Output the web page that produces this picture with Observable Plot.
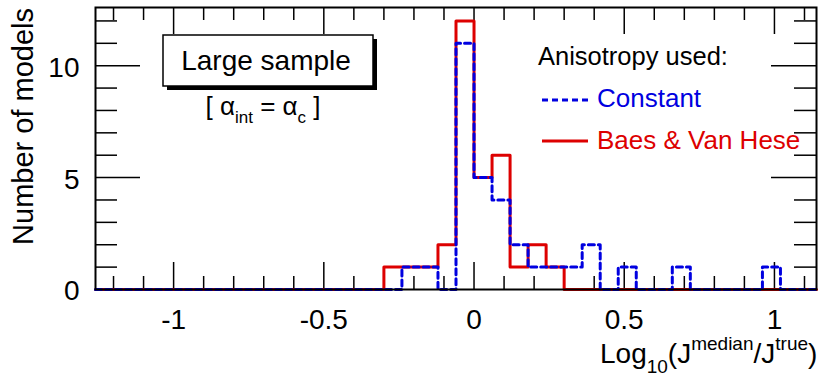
<!DOCTYPE html>
<html><head><meta charset="utf-8">
<script src="https://cdn.jsdelivr.net/npm/d3@7"></script>
<script src="https://cdn.jsdelivr.net/npm/@observablehq/plot@0.6"></script>
<style>body{margin:0;background:#fff}#chart{width:818px;height:379px}</style>
</head><body><div id="chart"></div>
<script>
// Histogram binning (40 bins of width 0.06 from -1.26 to 1.14)
const binStart = -1.26;
const binWidth = 0.06;
const nBins = 40;
// Counts per bin, index 0 = bin starting at -1.26
const baesCounts = [0,0,0,0,0,0,0,0,0,0, 0,0,0,0,0,0,1,1,1,2, 12,5,6,1,2,1,0,0,0,0, 0,0,0,0,0,0,0,0,0,0];
const constantCounts = [0,0,0,0,0,0,0,0,0,0, 0,0,0,0,0,0,0,1,1,0, 11,5,4,2,1,1,1,2,0,1, 0,0,1,0,0,0,0,1,0,0];
const xMajorTicks = [-1, -0.5, 0, 0.5, 1];
const xMinorTicks = [-1.2,-1.1,-0.9,-0.8,-0.7,-0.6,-0.4,-0.3,-0.2,-0.1,0.1,0.2,0.3,0.4,0.6,0.7,0.8,0.9,1.1];
const yMajorTicks = [0, 5, 10];
const yMinorTicks = [1,2,3,4,6,7,8,9,11,12];
const yMax = 12.6;
const legendTitle = "Anisotropy used:";
const seriesNames = ["Constant", "Baes & Van Hese"];
const BLUE = "#0000e0", RED = "#dd0000";

const W = 818, H = 379;
const xDomain = [binStart, binStart + nBins * binWidth];

function steps(counts) {
  const pts = counts.map((c, i) => ({x: binStart + i * binWidth, y: c}));
  pts.push({x: binStart + nBins * binWidth, y: counts[counts.length - 1]});
  return pts;
}

const tickStyle = {stroke: "black", strokeWidth: 1.5};
const plot = Plot.plot({
  width: W, height: H,
  marginLeft: 95, marginRight: 2, marginTop: 7, marginBottom: 90,
  style: {fontFamily: "'Liberation Sans', Arial, Helvetica, sans-serif", background: "white", overflow: "visible"},
  x: {domain: xDomain, axis: null},
  y: {domain: [0, yMax], axis: null},
  marks: [
    // bottom & top x ticks
    Plot.ruleX(xMajorTicks, {x: d => d, y1: 0, y2: 0, insetTop: -27, ...tickStyle}),
    Plot.ruleX(xMinorTicks, {x: d => d, y1: 0, y2: 0, insetTop: -13, ...tickStyle}),
    Plot.ruleX(xMajorTicks, {x: d => d, y1: yMax, y2: yMax, insetBottom: -27, ...tickStyle}),
    Plot.ruleX(xMinorTicks, {x: d => d, y1: yMax, y2: yMax, insetBottom: -13, ...tickStyle}),
    // left & right y ticks
    Plot.ruleY(yMajorTicks, {y: d => d, x1: xDomain[0], x2: xDomain[0], insetRight: -45, ...tickStyle}),
    Plot.ruleY(yMinorTicks, {y: d => d, x1: xDomain[0], x2: xDomain[0], insetRight: -22, ...tickStyle}),
    Plot.ruleY(yMajorTicks, {y: d => d, x1: xDomain[1], x2: xDomain[1], insetLeft: -45, ...tickStyle}),
    Plot.ruleY(yMinorTicks, {y: d => d, x1: xDomain[1], x2: xDomain[1], insetLeft: -22, ...tickStyle}),
    // tick labels
    Plot.text(yMajorTicks, {y: d => d, text: d => String(d), frameAnchor: "left", dx: -16, dy: 2, textAnchor: "end", fontSize: 28}),
    Plot.text(xMajorTicks, {x: d => d, text: d => String(d), frameAnchor: "bottom", lineAnchor: "top", dy: 20, fontSize: 28}),
    // histograms
    Plot.line(steps(baesCounts), {x: "x", y: "y", curve: "step-after", stroke: RED, strokeWidth: 3}),
    Plot.line(steps(constantCounts), {x: "x", y: "y", curve: "step-after", stroke: BLUE, strokeWidth: 3, strokeDasharray: "6,4"}),
    Plot.frame({stroke: "black", strokeWidth: 2})
  ]
});
document.getElementById("chart").appendChild(plot);

const svg = d3.select(plot);
const FONT = "'Liberation Sans', Arial, Helvetica, sans-serif";
function addText(x, y, size, anchor, fill) {
  return svg.append("text").attr("x", x).attr("y", y).attr("font-size", size)
    .attr("font-family", FONT).attr("text-anchor", anchor).attr("fill", fill || "black");
}

// Y axis title
svg.append("text").attr("transform", "translate(33,8) rotate(-90)")
  .attr("text-anchor", "end").attr("font-size", 29).attr("font-family", FONT).attr("fill", "black")
  .text("Number of models");

// X axis title with sub/superscripts
const xt = addText(600, 363, 28, "start");
xt.append("tspan").text("Log");
xt.append("tspan").attr("font-size", 19).attr("dy", 10).text("10");
xt.append("tspan").attr("dy", -10).text("(J");
xt.append("tspan").attr("font-size", 19).attr("dy", -13).text("median");
xt.append("tspan").attr("dy", 13).text("/J");
xt.append("tspan").attr("font-size", 19).attr("dy", -13).text("true");
xt.append("tspan").attr("dy", 13).text(")");

// "Large sample" pave with shadow
svg.append("rect").attr("x", 167).attr("y", 39).attr("width", 210).attr("height", 51).attr("fill", "black");
svg.append("rect").attr("x", 163).attr("y", 35).attr("width", 210).attr("height", 51).attr("fill", "white").attr("stroke", "black").attr("stroke-width", 1.5);
addText(266, 70, 28, "middle").text("Large sample");

// [ alpha_int = alpha_c ]
const st = addText(263, 115, 26, "middle");
st.append("tspan").text("[ α");
st.append("tspan").attr("font-size", 17).attr("dy", 8).text("int");
st.append("tspan").attr("dy", -8).text(" = α");
st.append("tspan").attr("font-size", 17).attr("dy", 8).text("c");
st.append("tspan").attr("dy", -8).text(" ]");

// Legend
addText(538, 65, 25.5, "start").text(legendTitle);
svg.append("line").attr("x1", 542).attr("x2", 590).attr("y1", 100).attr("y2", 100).attr("stroke", BLUE).attr("stroke-width", 3).attr("stroke-dasharray", "6,4");
addText(597, 107, 26, "start", BLUE).text(seriesNames[0]);
svg.append("line").attr("x1", 542).attr("x2", 588).attr("y1", 141).attr("y2", 141).attr("stroke", RED).attr("stroke-width", 3);
addText(597, 149, 26, "start", RED).text(seriesNames[1]);
</script>
</body></html>
